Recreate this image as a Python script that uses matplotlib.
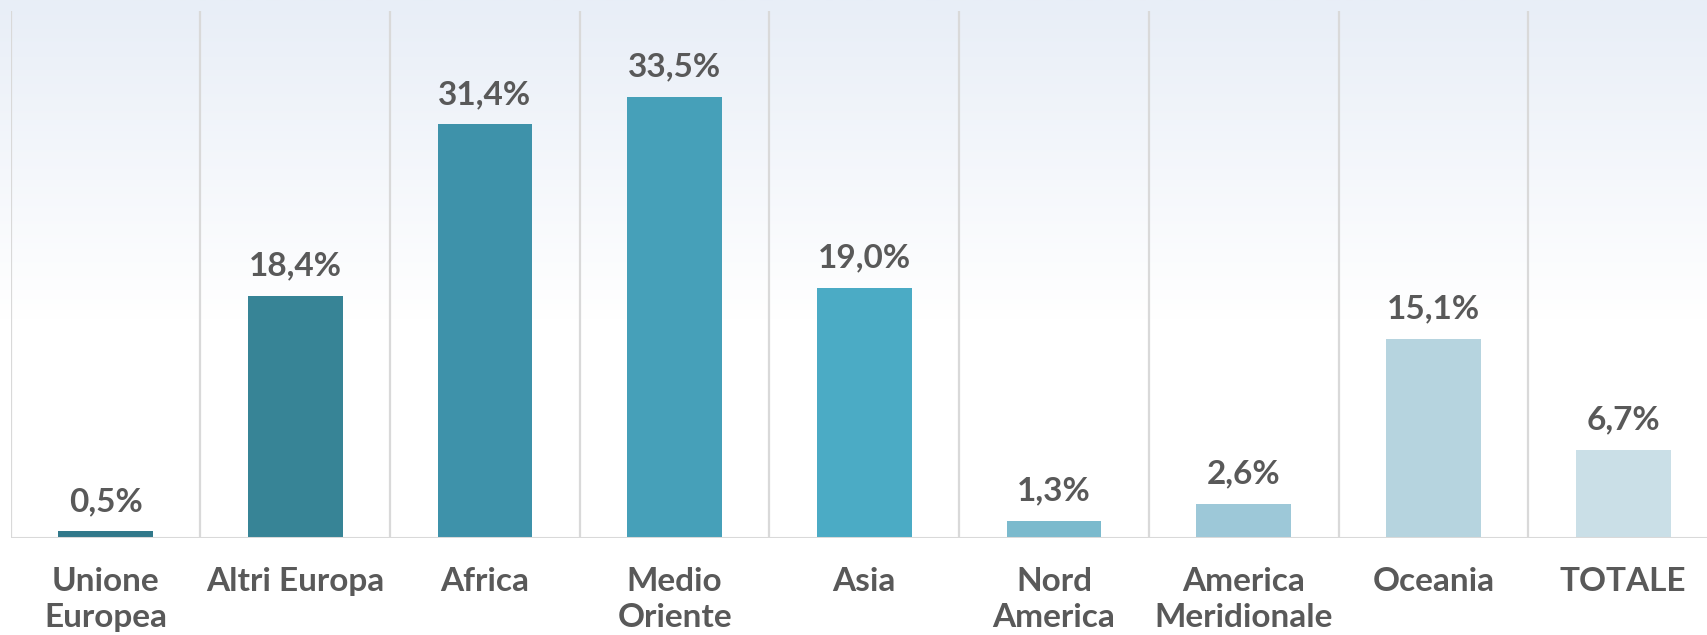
import numpy as np
import matplotlib
matplotlib.use("Agg")
import matplotlib.pyplot as plt
from matplotlib.colors import LinearSegmentedColormap

categories = ["Unione\nEuropea", "Altri Europa", "Africa", "Medio\nOriente", "Asia",
              "Nord\nAmerica", "America\nMeridionale", "Oceania", "TOTALE"]
values = [0.5, 18.4, 31.4, 33.5, 19.0, 1.3, 2.6, 15.1, 6.7]
bar_colors = ["#31788a", "#378496", "#3e92aa", "#46a0b9", "#4babc5",
              "#7bbacd", "#9dc8d8", "#b6d4df", "#cadfe7"]

text_col = "#595959"
grid_col = "#d9d9d9"
plt.rcParams['font.family'] = ['Lato', 'DejaVu Sans']

fig = plt.figure(figsize=(17.07, 6.35), dpi=100)

# background gradient (light blue on top fading to white)
bg = fig.add_axes([0, 0, 1, 1], zorder=0)
cmap = LinearSegmentedColormap.from_list("bg", [(0, "#ffffff"), (0.5, "#ffffff"), (1.0, "#e8eef7")])
grad = np.linspace(0, 1, 256).reshape(-1, 1)
bg.imshow(grad, aspect="auto", cmap=cmap, origin="lower", extent=[0, 1, 0, 1])
bg.set_axis_off()

ax = fig.add_axes([10.7 / 1707, 97 / 635, 9 * 189.7 / 1707, 527 / 635], zorder=1)
ax.patch.set_alpha(0)

x = np.arange(len(categories))
bars = ax.bar(x, values, width=0.5, color=bar_colors, zorder=2)

ax.set_xlim(-0.5, len(categories) - 0.5)
ax.set_ylim(0, 40)

# vertical separators between categories
for b in np.arange(-0.5, len(categories), 1.0):
    ax.axvline(b, color=grid_col, lw=1.6, zorder=1)
ax.axhline(0, color=grid_col, lw=2.2, zorder=3)

for rect, v in zip(bars, values):
    lbl = f"{v:.1f}".replace(".", ",") + "%"
    ax.annotate(lbl, (rect.get_x() + rect.get_width() / 2, v), xytext=(0, 11),
                textcoords="offset points", ha="center", va="bottom",
                fontsize=24, fontweight="bold", color=text_col)

ax.set_xticks(x)
ax.set_xticklabels(categories, fontsize=24, fontweight="bold", color=text_col,
                   linespacing=1.3, va="top")
ax.tick_params(axis="x", length=0, pad=21)
ax.set_yticks([])
for s in ax.spines.values():
    s.set_visible(False)

fig.savefig("out.png", dpi=100)
